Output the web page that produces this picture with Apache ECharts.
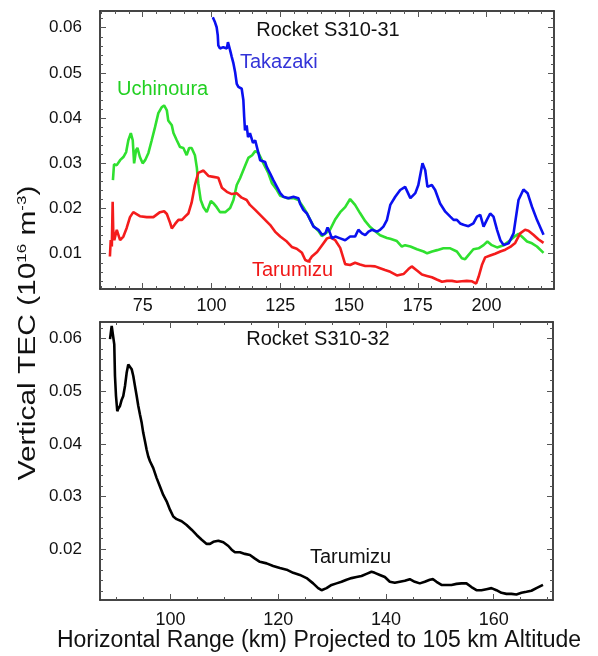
<!DOCTYPE html>
<html><head><meta charset="utf-8">
<script src="https://cdn.jsdelivr.net/npm/echarts@6/dist/echarts.min.js"></script>
<style>html,body{margin:0;padding:0;background:#fff}#c{width:598px;height:656px}</style>
</head><body><div id="c"></div>
<script>
// ---- Data: [horizontal range (km), vertical TEC (1e16 m^-3)] ----
const takazaki31 = [[100.5,0.0623],[101.3,0.0612],[101.9,0.0601],[102.3,0.0583],[102.5,0.0561],[103.1,0.0554],[104.3,0.0557],[105.6,0.0554],[106.0,0.0568],[106.4,0.0565],[106.8,0.0550],[107.4,0.0535],[108.0,0.0521],[108.6,0.0502],[109.2,0.0476],[109.8,0.0469],[110.4,0.0473],[111.0,0.0465],[111.6,0.0440],[111.9,0.0403],[112.2,0.0373],[112.8,0.0384],[113.3,0.0358],[114.0,0.0367],[115.1,0.0345],[115.9,0.0351],[117.1,0.0322],[117.7,0.0307],[119.5,0.0303],[120.1,0.0292],[121.3,0.0278],[122.5,0.0263],[123.8,0.0248],[125.0,0.0234],[126.2,0.0226],[128.0,0.0223],[129.8,0.0226],[131.6,0.0223],[132.2,0.0211],[133.4,0.0197],[134.7,0.0189],[135.9,0.0175],[137.1,0.0160],[138.9,0.0153],[140.2,0.0142],[141.4,0.0145],[142.2,0.0158],[142.9,0.0149],[143.8,0.0134],[145.0,0.0138],[146.8,0.0134],[148.6,0.0130],[150.4,0.0138],[152.2,0.0138],[153.4,0.0153],[154.7,0.0145],[155.9,0.0141],[157.1,0.0149],[158.3,0.0153],[160.1,0.0149],[161.3,0.0153],[162.5,0.0160],[163.8,0.0175],[165.0,0.0208],[166.8,0.0226],[168.6,0.0241],[170.4,0.0248],[172.3,0.0223],[174.1,0.0234],[175.2,0.0252],[176.7,0.0300],[177.7,0.0285],[178.5,0.0248],[180.1,0.0252],[181.3,0.0241],[183.1,0.0211],[185.0,0.0193],[186.8,0.0182],[188.0,0.0175],[189.2,0.0175],[190.4,0.0167],[191.6,0.0164],[193.4,0.0161],[195.2,0.0167],[196.5,0.0182],[197.7,0.0186],[198.9,0.0160],[200.1,0.0175],[201.3,0.0189],[202.5,0.0182],[203.8,0.0153],[205.0,0.0130],[206.2,0.0119],[208.0,0.0123],[209.8,0.0145],[211.6,0.0219],[213.4,0.0242],[214.9,0.0234],[216.5,0.0204],[218.3,0.0175],[220.7,0.0142]];

const uchinoura31 = [[64.2,0.0263],[64.6,0.0298],[65.6,0.0296],[66.8,0.0307],[68.0,0.0314],[69.0,0.0325],[69.8,0.0351],[70.7,0.0367],[71.4,0.0351],[71.9,0.0300],[72.6,0.0329],[73.1,0.0334],[74.0,0.0314],[75.0,0.0300],[75.9,0.0307],[77.1,0.0323],[78.3,0.0351],[79.5,0.0380],[80.7,0.0411],[81.9,0.0424],[82.8,0.0428],[83.8,0.0417],[84.3,0.0395],[85.6,0.0384],[86.2,0.0367],[87.4,0.0351],[88.6,0.0336],[89.8,0.0334],[91.0,0.0318],[91.9,0.0334],[92.8,0.0334],[94.0,0.0318],[94.7,0.0290],[95.2,0.0256],[96.1,0.0219],[97.1,0.0203],[98.3,0.0192],[99.8,0.0217],[100.7,0.0212],[101.9,0.0203],[103.1,0.0192],[105.0,0.0192],[106.8,0.0201],[108.0,0.0219],[109.2,0.0252],[110.4,0.0267],[112.2,0.0294],[113.4,0.0312],[114.8,0.0318],[115.9,0.0327],[117.1,0.0323],[118.9,0.0300],[120.7,0.0278],[122.0,0.0256],[123.8,0.0241],[125.0,0.0228],[127.4,0.0223],[129.8,0.0223],[131.6,0.0219],[133.4,0.0203],[134.7,0.0190],[135.9,0.0175],[137.1,0.0161],[138.9,0.0150],[140.1,0.0139],[141.3,0.0144],[143.1,0.0153],[144.9,0.0175],[146.8,0.0192],[148.6,0.0203],[150.4,0.0221],[152.2,0.0208],[154.0,0.0190],[155.9,0.0172],[157.7,0.0159],[159.5,0.0150],[161.3,0.0141],[163.8,0.0135],[165.0,0.0133],[167.4,0.0128],[169.2,0.0116],[170.4,0.0119],[172.3,0.0116],[174.7,0.0110],[177.1,0.0105],[178.4,0.0101],[180.2,0.0105],[182.0,0.0108],[184.3,0.0112],[186.8,0.0112],[189.2,0.0105],[191.0,0.0090],[192.2,0.0088],[193.4,0.0097],[195.2,0.0110],[197.1,0.0112],[198.9,0.0119],[200.3,0.0127],[201.9,0.0119],[203.8,0.0114],[206.2,0.0119],[208.6,0.0130],[210.4,0.0139],[211.6,0.0144],[212.8,0.0138],[214.7,0.0127],[216.5,0.0123],[218.3,0.0116],[220.7,0.0102]];

const tarumizu31 = [[63.1,0.0094],[63.4,0.0130],[63.8,0.0116],[64.1,0.0215],[64.3,0.0153],[64.7,0.0130],[65.6,0.0153],[66.2,0.0153],[66.8,0.0130],[68.0,0.0138],[69.2,0.0157],[70.4,0.0181],[71.6,0.0192],[74.0,0.0183],[76.5,0.0181],[78.9,0.0181],[81.3,0.0192],[82.8,0.0194],[83.8,0.0188],[85.0,0.0168],[85.6,0.0156],[86.8,0.0166],[88.0,0.0175],[89.3,0.0175],[90.4,0.0182],[91.6,0.0189],[92.8,0.0213],[94.0,0.0252],[95.2,0.0279],[97.1,0.0284],[98.9,0.0272],[100.7,0.0270],[102.5,0.0268],[103.8,0.0246],[105.6,0.0237],[107.4,0.0232],[109.2,0.0234],[111.0,0.0224],[112.8,0.0219],[114.0,0.0208],[115.9,0.0197],[117.7,0.0186],[119.5,0.0175],[121.3,0.0164],[123.1,0.0149],[125.0,0.0138],[127.4,0.0127],[129.2,0.0115],[131.0,0.0111],[132.9,0.0102],[134.1,0.0086],[135.3,0.0083],[136.5,0.0094],[138.4,0.0104],[140.2,0.0119],[142.0,0.0134],[143.1,0.0136],[145.0,0.0130],[146.8,0.0113],[148.6,0.0077],[150.4,0.0075],[152.2,0.0080],[154.0,0.0076],[155.9,0.0073],[157.7,0.0073],[159.5,0.0072],[161.3,0.0068],[163.1,0.0064],[165.0,0.0060],[167.4,0.0052],[169.8,0.0055],[171.6,0.0066],[172.8,0.0072],[174.7,0.0063],[176.5,0.0054],[178.3,0.0051],[180.1,0.0048],[181.9,0.0043],[183.8,0.0038],[185.6,0.0040],[187.4,0.0040],[189.2,0.0038],[191.0,0.0039],[192.8,0.0040],[194.7,0.0039],[196.2,0.0034],[197.1,0.0049],[198.3,0.0075],[199.5,0.0092],[201.3,0.0096],[203.1,0.0100],[205.0,0.0105],[206.8,0.0109],[208.6,0.0115],[210.4,0.0124],[212.2,0.0145],[214.0,0.0153],[215.2,0.0151],[217.0,0.0142],[218.8,0.0132],[220.7,0.0124]];

const tarumizu32 = [[88.76,0.0599],[89.07,0.0624],[89.37,0.0621],[89.55,0.0589],[89.68,0.0529],[89.87,0.0491],[90.11,0.0462],[90.30,0.0467],[90.61,0.0472],[90.93,0.0484],[91.22,0.0491],[91.54,0.0510],[91.85,0.0535],[92.15,0.0551],[92.47,0.0554],[92.78,0.0542],[93.08,0.0529],[93.39,0.0510],[93.71,0.0491],[94.01,0.0472],[94.32,0.0456],[94.64,0.0440],[94.93,0.0421],[95.25,0.0405],[95.56,0.0389],[95.86,0.0376],[96.18,0.0367],[96.79,0.0354],[97.42,0.0335],[98.03,0.0319],[98.64,0.0303],[99.27,0.0291],[99.89,0.0275],[100.50,0.0262],[101.13,0.0257],[102.06,0.0253],[102.98,0.0246],[103.91,0.0237],[104.84,0.0227],[105.78,0.0218],[106.71,0.0210],[107.32,0.0210],[107.94,0.0214],[108.87,0.0216],[109.80,0.0213],[110.73,0.0206],[111.34,0.0199],[111.95,0.0194],[112.88,0.0194],[113.81,0.0191],[114.74,0.0189],[115.67,0.0182],[116.58,0.0176],[117.83,0.0173],[119.05,0.0168],[120.30,0.0164],[121.54,0.0161],[122.76,0.0155],[124.01,0.0151],[125.25,0.0145],[126.47,0.0135],[127.40,0.0126],[128.03,0.0122],[128.96,0.0126],[129.89,0.0132],[130.81,0.0135],[131.74,0.0138],[132.67,0.0142],[133.60,0.0145],[134.53,0.0147],[135.45,0.0149],[136.38,0.0153],[137.31,0.0157],[137.92,0.0155],[138.85,0.0151],[139.78,0.0147],[140.70,0.0138],[141.63,0.0136],[142.56,0.0138],[143.49,0.0140],[144.41,0.0143],[145.34,0.0138],[146.27,0.0135],[147.20,0.0138],[148.13,0.0142],[148.74,0.0143],[149.37,0.0138],[150.30,0.0132],[151.22,0.0132],[152.15,0.0132],[153.08,0.0134],[154.01,0.0135],[154.93,0.0135],[155.86,0.0128],[156.79,0.0122],[157.72,0.0122],[158.64,0.0124],[159.57,0.0126],[160.50,0.0122],[161.43,0.0117],[162.36,0.0115],[163.28,0.0115],[164.21,0.0114],[165.14,0.0117],[166.07,0.0119],[166.99,0.0121],[167.92,0.0126],[169.14,0.0132]];

// ---- Tick values ----
const topXMajor = [75, 100, 125, 150, 175, 200];
const topXMinor = [60,65,70,75,80,85,90,95,100,105,110,115,120,125,130,135,140,145,150,155,160,165,170,175,180,185,190,195,200,205,210,215,220];
const topYMajor = [0.01, 0.02, 0.03, 0.04, 0.05, 0.06];
const topYMinor = [0.004,0.006,0.008,0.010,0.012,0.014,0.016,0.018,0.020,0.022,0.024,0.026,0.028,0.030,0.032,0.034,0.036,0.038,0.040,0.042,0.044,0.046,0.048,0.050,0.052,0.054,0.056,0.058,0.060,0.062];
const botXMajor = [100, 120, 140, 160];
const botXMinor = [90,95,100,105,110,115,120,125,130,135,140,145,150,155,160,165,170];
const botYMajor = [0.02, 0.03, 0.04, 0.05, 0.06];
const botYMinor = [0.012,0.014,0.016,0.018,0.020,0.022,0.024,0.026,0.028,0.030,0.032,0.034,0.036,0.038,0.040,0.042,0.044,0.046,0.048,0.050,0.052,0.054,0.056,0.058,0.060,0.062];

// axis extents
const topXRange = [59.5, 224.5], topYRange = [0.0022, 0.0637];
const botXRange = [86.9, 171.0], botYRange = [0.01034, 0.06316];

const FONT = "'Liberation Sans', Arial, sans-serif";
const frameColor = '#3a3a3a', tickColor = '#555';

function axis(kind, g, pos, range, ticks, len, label) {
  const a = {
    type: 'value', gridIndex: g, position: pos, min: range[0], max: range[1],
    axisLine: { show: true, onZero: false, lineStyle: { color: frameColor, width: 1.5 } },
    axisTick: { show: true, inside: true, length: len, customValues: ticks, lineStyle: { color: tickColor, width: 1 } },
    splitLine: { show: false },
    axisLabel: { show: false }
  };
  if (label) {
    a.axisLabel = Object.assign({ show: true, customValues: ticks, color: '#111', fontFamily: FONT, hideOverlap: false, showMinLabel: true, showMaxLabel: true }, label);
  }
  return a;
}

const yFmt = v => v.toFixed(2);
const xAxes = [
  axis('x', 0, 'bottom', topXRange, topXMajor, 6, { fontSize: 18, margin: 8 }),
  axis('x', 0, 'bottom', topXRange, topXMinor, 3),
  axis('x', 0, 'top', topXRange, topXMajor, 6),
  axis('x', 0, 'top', topXRange, topXMinor, 3),
  axis('x', 1, 'bottom', botXRange, botXMajor, 6, { fontSize: 18, margin: 11 }),
  axis('x', 1, 'bottom', botXRange, botXMinor, 3),
  axis('x', 1, 'top', botXRange, botXMajor, 6),
  axis('x', 1, 'top', botXRange, botXMinor, 3)
];
const yAxes = [
  axis('y', 0, 'left', topYRange, topYMajor, 6, { fontSize: 17, margin: 18, formatter: yFmt }),
  axis('y', 0, 'left', topYRange, topYMinor, 3),
  axis('y', 0, 'right', topYRange, topYMajor, 6),
  axis('y', 0, 'right', topYRange, topYMinor, 3),
  axis('y', 1, 'left', botYRange, botYMajor, 6, { fontSize: 17, margin: 18, formatter: yFmt }),
  axis('y', 1, 'left', botYRange, botYMinor, 3),
  axis('y', 1, 'right', botYRange, botYMajor, 6),
  axis('y', 1, 'right', botYRange, botYMinor, 3)
];

function line(name, data, color, xi, yi) {
  return { name, type: 'line', data, xAxisIndex: xi, yAxisIndex: yi, showSymbol: false, symbol: 'none',
           lineStyle: { color, width: 2.6 }, itemStyle: { color }, animation: false, silent: true };
}

function label(text, x, y, color, align) {
  return { type: 'text', x, y, style: { text, fill: color, fontSize: 20, fontFamily: FONT, align: align || 'left', verticalAlign: 'middle' } };
}

const option = {
  backgroundColor: '#fff',
  animation: false,
  grid: [
    { left: 100, top: 11, right: 44, height: 278 },
    { left: 100, top: 322, right: 45, height: 278 }
  ],
  xAxis: xAxes,
  yAxis: yAxes,
  series: [
    line('Uchinoura', uchinoura31, '#2fe02f', 0, 0),
    line('Tarumizu', tarumizu31, '#f41c1c', 0, 0),
    line('Takazaki', takazaki31, '#0a10f0', 0, 0),
    line('Tarumizu S310-32', tarumizu32, '#000000', 4, 4)
  ],
  graphic: [
    label('Rocket S310-31', 328, 30, '#111', 'center'),
    label('Takazaki', 240, 62, '#3434d8'),
    label('Uchinoura', 117, 89, '#22d022'),
    label('Tarumizu', 252, 270, '#f01818'),
    label('Rocket S310-32', 318, 339, '#111', 'center'),
    label('Tarumizu', 310, 557, '#111'),
    { type: 'text', x: 319, y: 641, style: { text: 'Horizontal Range (km) Projected to 105 km Altitude', fill: '#111', fontSize: 23, fontFamily: FONT, align: 'center', verticalAlign: 'middle' } },
    { type: 'text', x: 29, y: 333, rotation: Math.PI / 2, scaleX: 1.3,
      style: { text: '{a|Vertical TEC (10}{s|16}{a| m}{s|-3}{a|)}', align: 'center', verticalAlign: 'middle',
        rich: { a: { fontSize: 23, fontFamily: FONT, fill: '#111', lineHeight: 26 },
                s: { fontSize: 13, fontFamily: FONT, fill: '#111', verticalAlign: 'top', lineHeight: 26 } } } }
  ]
};

const chart = echarts.init(document.getElementById('c'), null, { renderer: 'canvas' });
chart.setOption(option);
</script>
</body></html>
